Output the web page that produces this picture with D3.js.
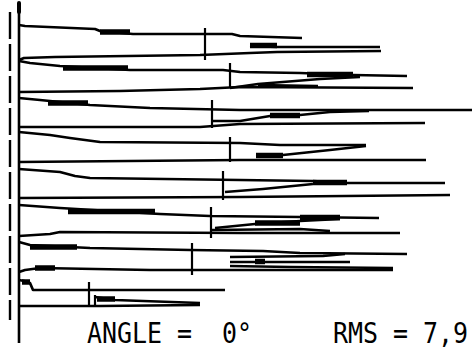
<!DOCTYPE html>
<html>
<head>
<meta charset="utf-8">
<script src="https://cdn.jsdelivr.net/npm/d3@7"></script>
<style>
  html, body { margin: 0; padding: 0; background: #fff; }
  svg { display: block; }
</style>
</head>
<body>
<svg id="chart" width="476" height="352"></svg>
<script>
// traces: x = distance from the left axis, y = track position
const traces = [
  // run 1
  [[0,25],[6,26],[76,29],[81,31],[114,34],[213,34],[221,36],[283,38]],
  [[0,60],[5,58],[36,57],[181,55],[231,53],[258,52],[362,51]],
  [[231,46],[258,47],[361,47]],
  // run 2
  [[0,61],[11,63],[41,66],[111,70],[204,70],[221,72],[281,73],[334,75],[388,76]],
  [[211,88],[239,84],[301,79],[341,77]],
  [[239,85],[299,86]],
  [[0,92],[101,91],[181,89],[221,87],[394,88]],
  // run 3
  [[0,98],[21,100],[71,105],[131,108],[221,110],[453,110]],
  [[193,121],[221,121],[251,116],[281,115],[311,112],[350,111]],
  [[0,127],[181,127],[221,124],[406,123]],
  // run 4
  [[0,132],[31,135],[51,138],[81,142],[221,143],[261,145],[347,145]],
  [[237,156],[264,155],[311,150],[347,146]],
  [[0,162],[221,160],[407,160]],
  // run 5
  [[0,169],[41,172],[56,176],[71,178],[221,180],[294,181],[328,183],[426,183]],
  [[206,192],[244,189],[294,184]],
  [[0,198],[221,197],[431,195]],
  // run 6
  [[0,205],[41,208],[141,214],[191,216],[281,217],[360,218]],
  [[196,228],[236,224],[281,221],[321,219]],
  [[193,230],[281,229],[311,231]],
  [[0,236],[31,234],[41,232],[221,233],[381,233]],
  // run 7
  [[0,242],[11,245],[71,248],[171,250],[244,251],[281,253],[388,254]],
  [[211,257],[304,256],[326,254]],
  [[211,262],[331,262]],
  [[211,266],[271,267],[374,268]],
  [[0,272],[6,270],[21,268],[131,270],[374,270]],
  // run 8
  [[0,280],[5,281],[11,283],[14,290],[81,290],[206,290]],
  [[76,297],[96,300],[181,303]],
  [[0,306],[81,306],[181,305]]
]

// dense (overprinted) stretches: [x0, x1, y]
const blobs = [
  [81,111,32],[231,258,45.5],
  [44,109,68],[288,334,74.5],
  [29,69,103],[251,281,115.5],
  [237,264,155.5],
  [294,328,182.5],
  [49,136,211.5],[281,321,217.5],[236,281,223],
  [11,58,247],[236,246,261.5],[16,36,268],
  [3,11,282],[78,96,299]
]

// vertical mean markers: [x, y0, y1]
const markers = [
  [186,28,60],[211,63,88],[193,100,128],[211,137,162],
  [204,171,200],[192,207,238],[173,243,275],[70,282,307],[76,295,307]
]

const captions = [
  { text: 'ANGLE =  0°', at: 68 },
  { text: 'RMS = 7,9', at: 314 }
]

const svg = d3.select('#chart')
const x = d3.scaleLinear().domain([0, 456]).range([19, 475])
const y = d3.scaleLinear().domain([0, 352]).range([0, 352])

const line = d3.line().x(d => x(d[0])).y(d => y(d[1]))

// left axis and the broken reference line beside it
svg.append('line')
  .attr('x1', x(0)).attr('x2', x(0))
  .attr('y1', y(5)).attr('y2', y(343))
  .style('stroke', '#000').style('stroke-width', 2.6)
svg.append('line')
  .attr('x1', x(0)).attr('x2', x(0))
  .attr('y1', y(3)).attr('y2', y(12))
  .style('stroke', '#000').style('stroke-width', 4).style('stroke-linecap', 'round')
svg.append('line')
  .attr('x1', x(-9)).attr('x2', x(-9))
  .attr('y1', y(12)).attr('y2', y(320))
  .style('stroke', '#000').style('stroke-width', 2.4)
  .style('stroke-dasharray', '27,5')

svg.selectAll('.trace').data(traces).enter()
  .append('path').classed('trace', true)
  .attr('d', line)
  .style('fill', 'none')
  .style('stroke', '#000')
  .style('stroke-width', 2.7)
  .style('stroke-linejoin', 'round')

svg.selectAll('.blob').data(blobs).enter()
  .append('line').classed('blob', true)
  .attr('x1', d => x(d[0])).attr('x2', d => x(d[1]))
  .attr('y1', d => y(d[2])).attr('y2', d => y(d[2]))
  .style('stroke', '#000')
  .style('stroke-width', 5.5)

svg.selectAll('.marker').data(markers).enter()
  .append('line').classed('marker', true)
  .attr('x1', d => x(d[0])).attr('x2', d => x(d[0]))
  .attr('y1', d => y(d[1])).attr('y2', d => y(d[2]))
  .style('stroke', '#000')
  .style('stroke-width', 2.2)

// monospaced caption, squeezed to a ~15px pitch like the plotter font
svg.selectAll('.caption').data(captions).enter()
  .append('g').classed('caption', true)
  .attr('transform', d => `translate(${x(d.at)}, ${y(343)}) scale(0.86, 1)`)
  .append('text')
  .style('white-space', 'pre')
  .style('font-family', '"DejaVu Sans Mono", monospace')
  .style('font-size', '29px')
  .style('fill', '#000')
  .text(d => d.text)
</script>
</body>
</html>
